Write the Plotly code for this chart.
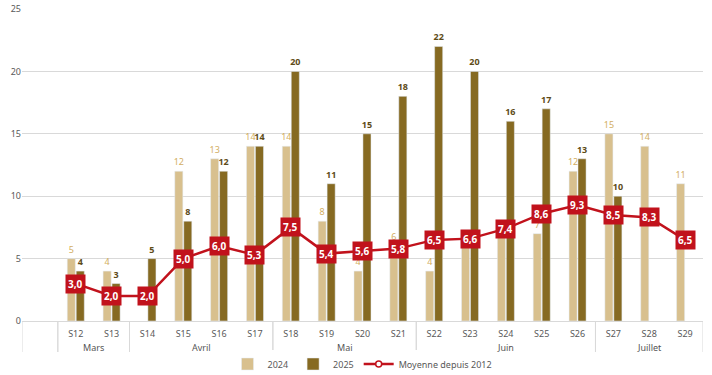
import plotly.graph_objects as go

weeks = ["", "S12", "S13", "S14", "S15", "S16", "S17", "S18", "S19", "S20", "S21",
         "S22", "S23", "S24", "S25", "S26", "S27", "S28", "S29"]
months = ["", "Mars", "Mars", "Avril", "Avril", "Avril", "Avril", "Mai", "Mai", "Mai", "Mai",
          "Juin", "Juin", "Juin", "Juin", "Juin", "Juillet", "Juillet", "Juillet"]
v2024 = [None, 5, 4, None, 12, 13, 14, 14, 8, 4, 6, 4, 6, 7, 7, 12, 15, 14, 11]
v2025 = [None, 4, 3, 5, 8, 12, 14, 20, 11, 15, 18, 22, 20, 16, 17, 13, 10, None, None]
moyenne = [None, 3.0, 2.0, 2.0, 5.0, 6.0, 5.3, 7.5, 5.4, 5.6, 5.8, 6.5, 6.6, 7.4, 8.6, 9.3, 8.5, 8.3, 6.5]

C24 = "#D8C08E"
C25 = "#866A22"
CRED = "#C1121C"
FONT = "Noto Sans"

x = list(range(len(weeks)))


def label24(v, m):
    # labels that sit under the red average boxes are not visible in the reference
    if v is None:
        return ""
    if m is not None and 0 < m - v <= 1:
        return ""
    return str(v)


fig = go.Figure()
fig.add_trace(go.Bar(
    x=x, y=v2024, name="2024", marker_color=C24,
    text=[label24(v, m) for v, m in zip(v2024, moyenne)], textposition="outside",
    constraintext="none",
    textfont=dict(color="#D2AE62", size=9, family=FONT), cliponaxis=False,
))
fig.add_trace(go.Bar(
    x=x, y=v2025, name="2025", marker_color=C25,
    text=[("" if v is None else "<b>%d</b>" % v) for v in v2025], textposition="outside",
    constraintext="none",
    textfont=dict(color="#5E4B17", size=9, family=FONT), cliponaxis=False,
))
fig.add_trace(go.Scatter(
    x=x, y=moyenne, name="Moyenne depuis 2012", mode="lines+markers",
    line=dict(color=CRED, width=2.5),
    marker=dict(symbol="circle", size=6, color="white", line=dict(color=CRED, width=1.5)),
    cliponaxis=False,
))

annotations = []
for xi, m in zip(x, moyenne):
    if m is None:
        continue
    annotations.append(dict(
        x=xi, y=m, xref="x", yref="y", showarrow=False,
        text="<b>%s</b>" % ("%.1f" % m).replace(".", ","),
        font=dict(color="white", size=10, family=FONT),
        bgcolor=CRED, borderpad=2,
    ))

# month group labels and dividers
H = 312.0
row_bottom = (321 - 352) / H
month_y = (321 - 347) / H
groups = []
for i, m in enumerate(months):
    if groups and groups[-1][0] == m:
        groups[-1][2] = i
    else:
        groups.append([m, i, i])
shapes = []
for m, a, b in groups:
    if m:
        annotations.append(dict(
            x=(a + b) / 2, y=month_y, xref="x", yref="paper", showarrow=False,
            text=m, font=dict(size=9, color="#555555", family=FONT), yanchor="middle",
        ))
    for edge in (a - 0.5, b + 0.5):
        shapes.append(dict(type="line", xref="x", yref="paper", x0=edge, x1=edge,
                           y0=0, y1=row_bottom, line=dict(color="#D9D9D9", width=1)))

fig.update_layout(
    width=712, height=375,
    margin=dict(l=22, r=9, t=9, b=54, autoexpand=False),
    paper_bgcolor="white", plot_bgcolor="white",
    barmode="group", bargap=0.5, bargroupgap=0.1,
    font=dict(family=FONT, size=9, color="#595959"),
    xaxis=dict(
        range=[-0.5, len(weeks) - 0.5], tickvals=x, ticktext=weeks,
        showgrid=False, zeroline=False, showline=True, linecolor="#D9D9D9",
        ticks="outside", ticklen=4, tickcolor="rgba(0,0,0,0)",
        tickfont=dict(size=9, color="#595959"), automargin=False,
    ),
    yaxis=dict(
        range=[0, 25], dtick=5, showgrid=True, gridcolor="#D9D9D9", gridwidth=1,
        zeroline=False, ticks="", tickfont=dict(size=9, color="#595959"), automargin=False,
    ),
    legend=dict(
        orientation="h", x=0.5, xanchor="center", y=(321 - 364) / H, yanchor="middle",
        font=dict(size=9, color="#595959"), traceorder="normal",
    ),
    annotations=annotations, shapes=shapes,
)

fig.write_html("out.html", config={"displayModeBar": False},
               post_script="document.body.style.margin='0';")
